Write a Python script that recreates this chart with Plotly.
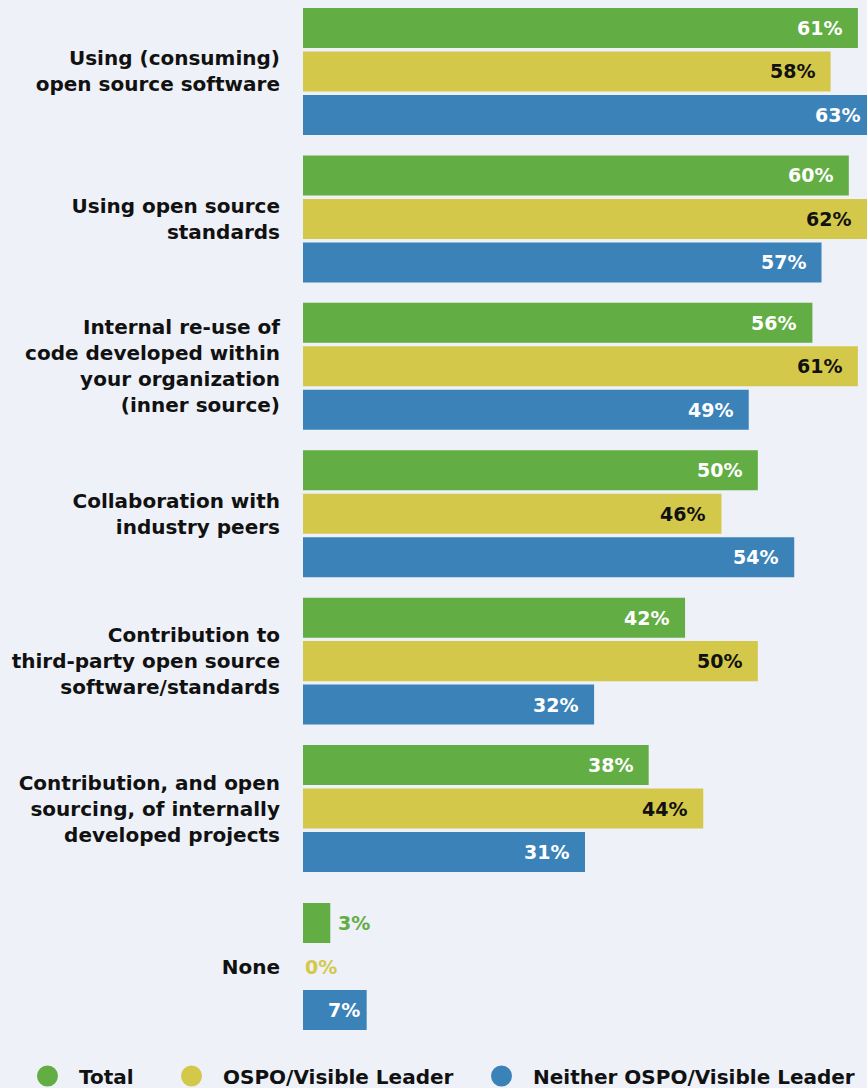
import plotly.graph_objects as go

categories = [
    "Using (consuming)<br>open source software",
    "Using open source<br>standards",
    "Internal re-use of<br>code developed within<br>your organization<br>(inner source)",
    "Collaboration with<br>industry peers",
    "Contribution to<br>third-party open source<br>software/standards",
    "Contribution, and open<br>sourcing, of internally<br>developed projects",
    "None",
]
series_names = ["Total", "OSPO/Visible Leader", "Neither OSPO/Visible Leader"]
total = [61, 60, 56, 50, 42, 38, 3]
ospo = [58, 62, 61, 46, 50, 44, 0]
neither = [63, 57, 49, 54, 32, 31, 7]

colors = ["#62ad44", "#d4c84b", "#3b82b9"]
inside_text_colors = ["#ffffff", "#111111", "#ffffff"]
BG = "#eef1f8"
FONT = "DejaVu Sans"
X_MAX = 62.0
BARGAP = 0.115
NONE_EXTRA_GAP = 0.072  # the "None" row sits a little further apart

# row positions along the (reversed) y axis
row_pos = [i + (NONE_EXTRA_GAP if c == "None" else 0) for i, c in enumerate(categories)]

fig = go.Figure()
all_values = [total, ospo, neither]

for name, vals, col in zip(series_names, all_values, colors):
    fig.add_trace(go.Bar(
        y=row_pos, x=vals, orientation="h", name=name,
        marker=dict(color=col, line=dict(width=0)),
        showlegend=False, hoverinfo="x+name",
    ))

# one legend per series so each entry can sit at its own spot
legend_ids = ["legend", "legend2", "legend3"]
legend_x = [-0.5089, -0.2535, 0.2961]
for name, col, lid in zip(series_names, colors, legend_ids):
    fig.add_trace(go.Scatter(
        x=[None], y=[None], mode="markers", name=name,
        marker=dict(color=col, size=23, symbol="circle", line=dict(color=col, width=5)),
        showlegend=True, legend=lid,
    ))

# value labels: right-aligned inside the bar end, or just outside for short bars
n_series = len(all_values)
slot = (1 - BARGAP) / n_series
annotations = []
for s, vals in enumerate(all_values):
    offset = (s - (n_series - 1) / 2) * slot
    for i, v in enumerate(vals):
        y_pos = row_pos[i] + offset
        if v >= 5:
            annotations.append(dict(
                x=v / X_MAX, y=y_pos, xref="paper", yref="y", text=f"<b>{v}%</b>",
                showarrow=False, xanchor="right", yanchor="middle",
                xshift=-5 if v < 10 else -14,
                font=dict(family=FONT, size=19, color=inside_text_colors[s]),
            ))
        else:
            annotations.append(dict(
                x=v / X_MAX, y=y_pos, xref="paper", yref="y", text=f"<b>{v}%</b>",
                showarrow=False, xanchor="left", yanchor="middle",
                xshift=6 if v > 0 else 0,
                font=dict(family=FONT, size=19, color=colors[s]),
            ))

legend_style = dict(
    orientation="h", xanchor="left", y=-0.0336, yanchor="middle",
    font=dict(family=FONT, size=20, color="#111111", weight="bold"),
    bgcolor="rgba(0,0,0,0)", itemwidth=53,
)
legends = {lid: dict(legend_style, x=lx) for lid, lx in zip(legend_ids, legend_x)}

fig.update_layout(
    width=867, height=1088,
    barmode="group", bargap=BARGAP, bargroupgap=0.08,
    paper_bgcolor=BG, plot_bgcolor=BG,
    margin=dict(l=303, r=0, t=0, b=47, autoexpand=False),
    font=dict(family=FONT, size=20, color="#111111"),
    xaxis=dict(range=[0, X_MAX], visible=False, fixedrange=True),
    yaxis=dict(
        range=[6.577, -0.485],
        tickmode="array", tickvals=row_pos, ticktext=categories,
        showgrid=False, zeroline=False, showline=False, ticks="",
        ticklabelstandoff=22,
        tickfont=dict(family=FONT, size=20, color="#111111", weight="bold"),
    ),
    annotations=annotations,
    **legends,
)

fig.write_html("out.html")
